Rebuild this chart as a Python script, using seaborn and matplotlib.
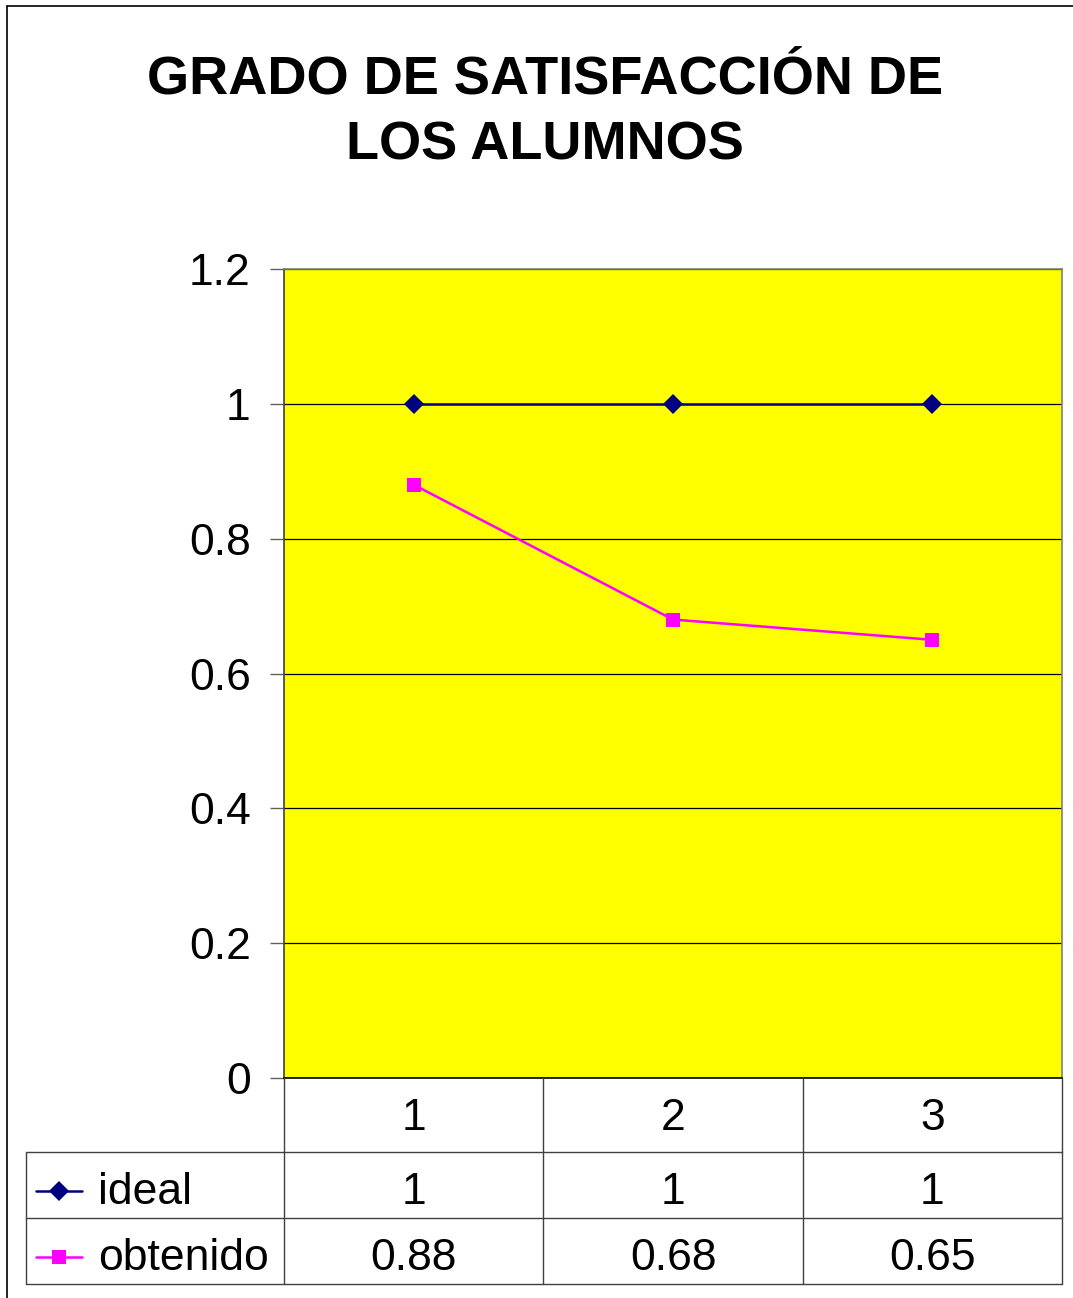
import matplotlib
matplotlib.use("Agg")
import matplotlib.pyplot as plt
import matplotlib.transforms as mtransforms
from matplotlib.lines import Line2D
import numpy as np
import pandas as pd
import seaborn as sns

# Data
categories = ["1", "2", "3"]
ideal = [1, 1, 1]
obtenido = [0.88, 0.68, 0.65]
series_names = ["ideal", "obtenido"]
y_ticks = [0, 0.2, 0.4, 0.6, 0.8, 1.0, 1.2]
y_tick_labels = ["0", "0.2", "0.4", "0.6", "0.8", "1", "1.2"]
title_lines = ["GRADO DE SATISFACCIÓN DE", "LOS ALUMNOS"]

colors = {"ideal": "#000080", "obtenido": "#FF00FF"}
markers = {"ideal": "D", "obtenido": "s"}

df = pd.DataFrame({
    "x": list(range(len(categories))) * 2,
    "valor": ideal + obtenido,
    "serie": ["ideal"] * len(ideal) + ["obtenido"] * len(obtenido),
})

sns.set_style("white")
plt.rcParams["font.family"] = ["Liberation Sans", "DejaVu Sans"]
plt.rcParams["text.color"] = "black"

W, H = 1073, 1298
FS = 32
fig = plt.figure(figsize=(W / 100, H / 100), dpi=100)


def fx(px):
    return px / W


def fy(py):
    return 1 - py / H


ax = fig.add_axes([fx(284), fy(1078), fx(1062) - fx(284), fy(269) - fy(1078)])
ax.set_facecolor("#FFFF00")

sns.lineplot(data=df, x="x", y="valor", hue="serie", style="serie",
             palette=colors, markers=markers, dashes=False,
             markersize=10, linewidth=1.8, markeredgewidth=0,
             legend=False, ax=ax, zorder=3)

ax.set_xlim(-0.5, len(categories) - 0.5)
ax.set_ylim(0, 1.2)
ax.set_yticks(y_ticks)
ax.set_yticklabels(y_tick_labels, fontsize=FS, color="black")
ax.set_xticks([])
ax.set_xlabel("")
ax.set_ylabel("")
ax.grid(axis="y", color="black", linewidth=0.9)
ax.set_axisbelow(True)
ax.tick_params(axis="y", direction="out", length=10, width=1, color="#606060",
               pad=14, left=True, labelcolor="black")
for side in ["top", "right"]:
    ax.spines[side].set_color("#808080")
    ax.spines[side].set_linewidth(1.2)
ax.spines["left"].set_color("#404040")
ax.spines["left"].set_linewidth(1.2)
ax.spines["bottom"].set_color("black")
ax.spines["bottom"].set_linewidth(1.2)

# Title, one text per line
for line, yc in zip(title_lines, [80, 145]):
    fig.text(fx(545), fy(yc), line, ha="center", va="center", fontsize=39,
             fontweight="bold", color="black")

# Data table below the plot
blend = mtransforms.blended_transform_factory(ax.transData, fig.transFigure)
row_lines = [1152, 1218, 1284]
tcol = "#404040"
for yy in row_lines:
    fig.add_artist(Line2D([fx(26), fx(1062)], [fy(yy), fy(yy)], color=tcol,
                          linewidth=1, transform=fig.transFigure))
for xb in np.arange(-0.5, len(categories), 1.0):
    fig.add_artist(Line2D([xb, xb], [fy(1078), fy(1284)], color=tcol,
                          linewidth=1, transform=blend))
fig.add_artist(Line2D([fx(26), fx(26)], [fy(1152), fy(1284)], color=tcol,
                      linewidth=1, transform=fig.transFigure))

for i, c in enumerate(categories):
    fig.text(i, fy(1118), c, transform=blend, ha="center", va="center",
             fontsize=FS)

row_centers = [1193, 1259]
for name, vals, yc in zip(series_names, [ideal, obtenido], row_centers):
    for i, v in enumerate(vals):
        fig.text(i, fy(yc), f"{v:g}", transform=blend, ha="center",
                 va="center", fontsize=FS)
    # legend key: short line with centered marker
    key_y = yc - 2
    fig.add_artist(Line2D([fx(36), fx(82)], [fy(key_y), fy(key_y)],
                          color=colors[name], linewidth=1.8,
                          transform=fig.transFigure))
    fig.add_artist(Line2D([fx(59)], [fy(key_y)], color=colors[name],
                          marker=markers[name], markersize=10,
                          markeredgewidth=0, linestyle="none",
                          transform=fig.transFigure))
    fig.text(fx(98), fy(yc), name, ha="left", va="center", fontsize=FS)

# Outer chart frame (left and top edges)
fig.add_artist(Line2D([fx(7), fx(7)], [fy(6), 0], color="black",
                      linewidth=1.2, transform=fig.transFigure))
fig.add_artist(Line2D([fx(7), 1], [fy(6), fy(6)], color="black",
                      linewidth=1.2, transform=fig.transFigure))

fig.savefig("out.png", dpi=100)
